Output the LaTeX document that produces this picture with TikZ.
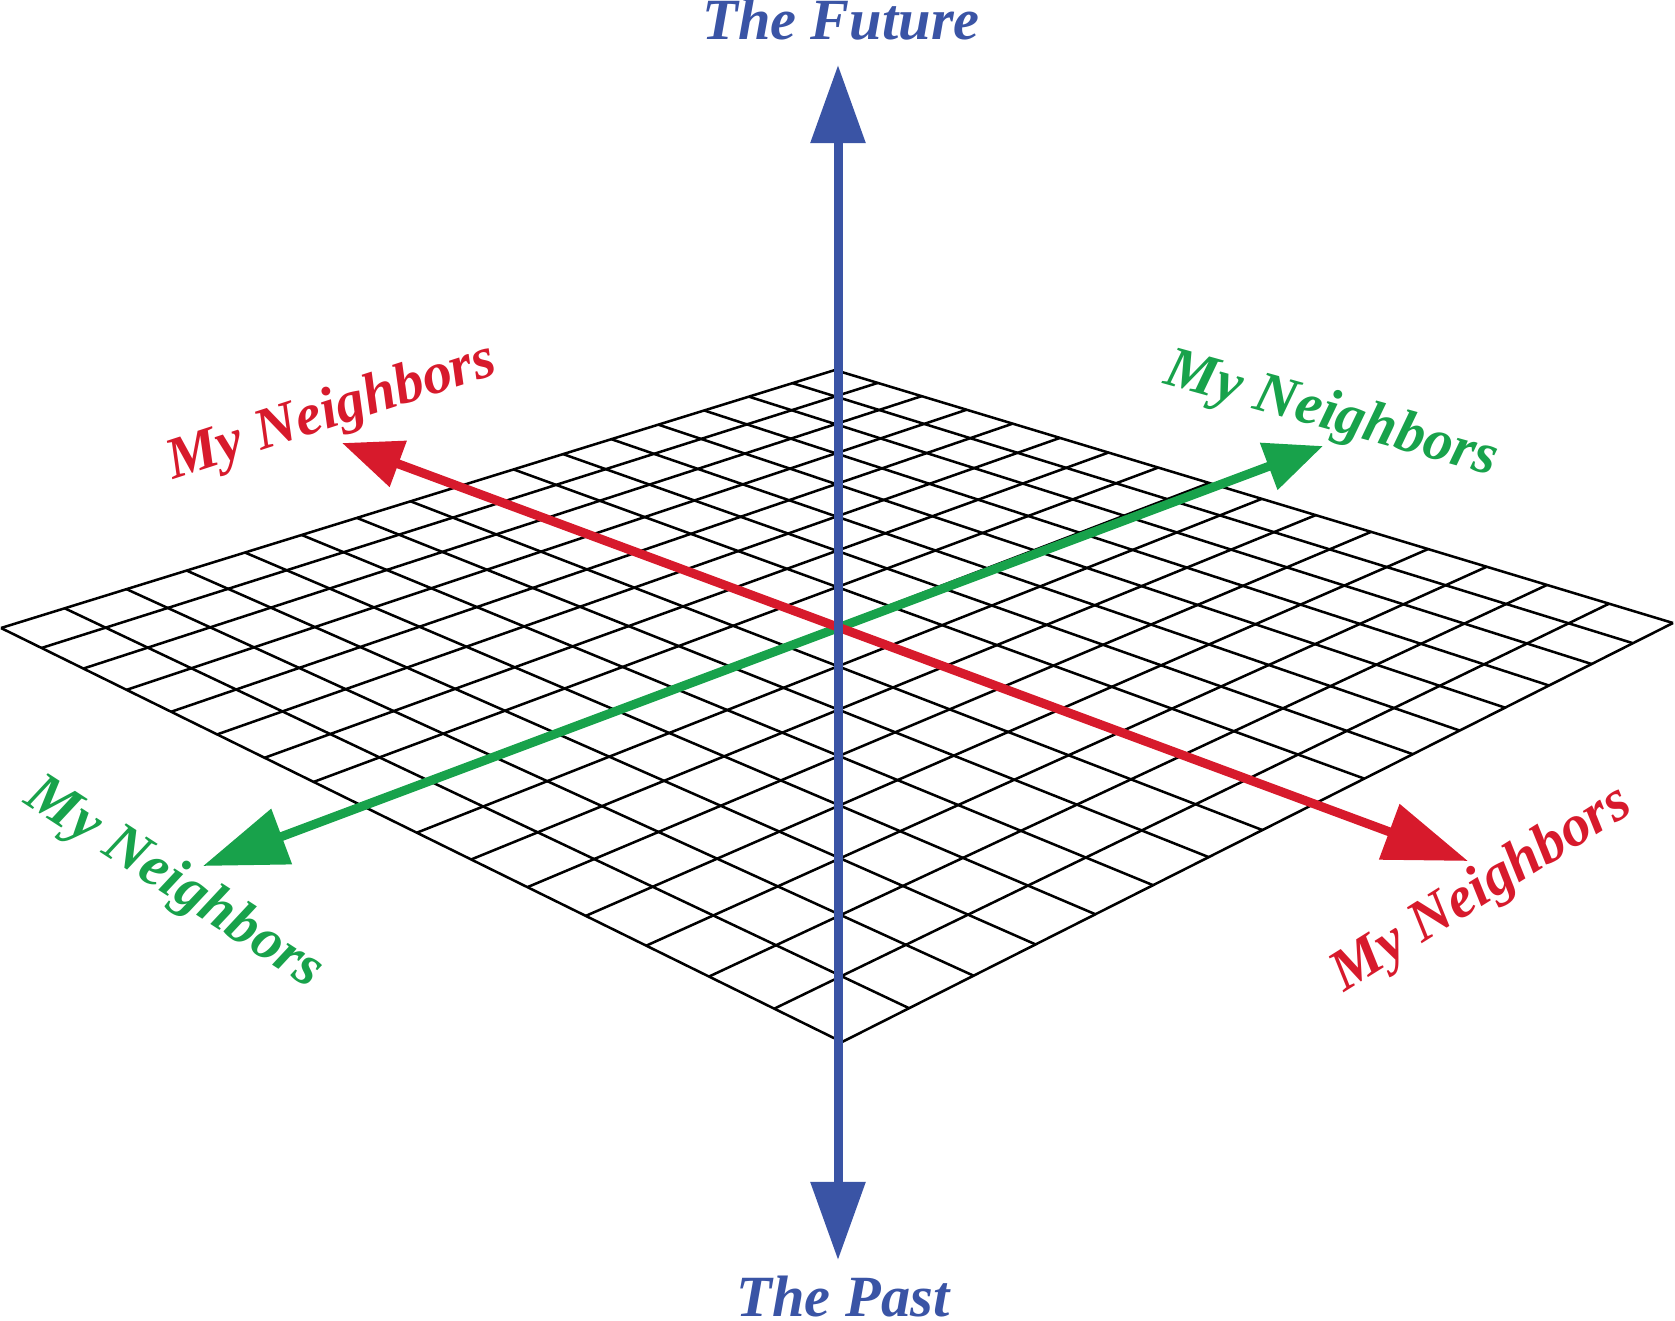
\documentclass[tikz,border=0pt]{standalone}
\usepackage{fontspec}
\setmainfont{Liberation Serif}
\usepackage{tikz}
\usetikzlibrary{arrows.meta}
\usepackage{xcolor}
\definecolor{timeblue}{HTML}{3A54A5}
\definecolor{nbred}{HTML}{D71A2C}
\definecolor{nbgreen}{HTML}{18A24B}

\begin{document}
\begin{tikzpicture}[x=0.01cm, y=-0.01cm,
    gridline/.style={black, line width=0.72pt},
    axisline/.style={line width=0.09cm},
    axislabel/.style={font=\fontsize{16.6}{19}\selectfont\bfseries\itshape, inner sep=0pt}]
  \useasboundingbox (0,0) rectangle (1675,1321);
  % floor in perspective, 16 x 16 cells
  \foreach \t in {0,...,16} {
    \pgfmathsetmacro{\s}{\t/16}
    \pgfmathsetmacro{\wa}{1+0.24057*\s}
    \pgfmathsetmacro{\wb}{0.76101+0.24057*\s}
    \draw[gridline] ({(1034.88*\s+1)/\wa},{(628-168.99*\s)/\wa})
      -- ({(1034.88*\s+640.77)/\wb},{(792.97-168.99*\s)/\wb});
    \pgfmathsetmacro{\wc}{1-0.23899*\s}
    \pgfmathsetmacro{\wd}{1.24057-0.23899*\s}
    \draw[gridline] ({(639.77*\s+1)/\wc},{(628+164.97*\s)/\wc})
      -- ({(639.77*\s+1035.88)/\wd},{(459.01+164.97*\s)/\wd});
  }
  \coordinate (past) at (838,1260);
  \coordinate (future) at (838,65);
  \coordinate (greennear) at (203,866);
  \coordinate (greenfar) at (1323,446);
  \coordinate (redfar) at (342,443);
  \coordinate (rednear) at (1468,861);
  \draw[axisline, nbgreen, {Triangle[length=0.84cm,width=0.57cm]}-{Triangle[length=0.58cm,width=0.48cm]}]
    (greennear) -- (greenfar);
  \draw[axisline, nbred, {Triangle[length=0.6cm,width=0.47cm]}-{Triangle[length=0.84cm,width=0.57cm]}]
    (redfar) -- (rednear);
  \draw[axisline, timeblue, {Triangle[length=0.78cm,width=0.53cm]}-{Triangle[length=0.78cm,width=0.53cm]}]
    (past) -- (future);
  \node[axislabel, timeblue, anchor=base] (futurelabel) at (841,39) {The Future};
  \node[axislabel, timeblue, anchor=base] (pastlabel) at (843,1316) {The Past};
  \node[axislabel, nbred, rotate=18] (redfarlabel) at (332,413) {My Neighbors};
  \node[axislabel, nbgreen, rotate=-15.5] (greenfarlabel) at (1331,416) {My Neighbors};
  \node[axislabel, nbgreen, rotate=-33] (greennearlabel) at (174,884) {My Neighbors};
  \node[axislabel, nbred, rotate=32] (rednearlabel) at (1482,890) {My Neighbors};
\end{tikzpicture}
\end{document}
